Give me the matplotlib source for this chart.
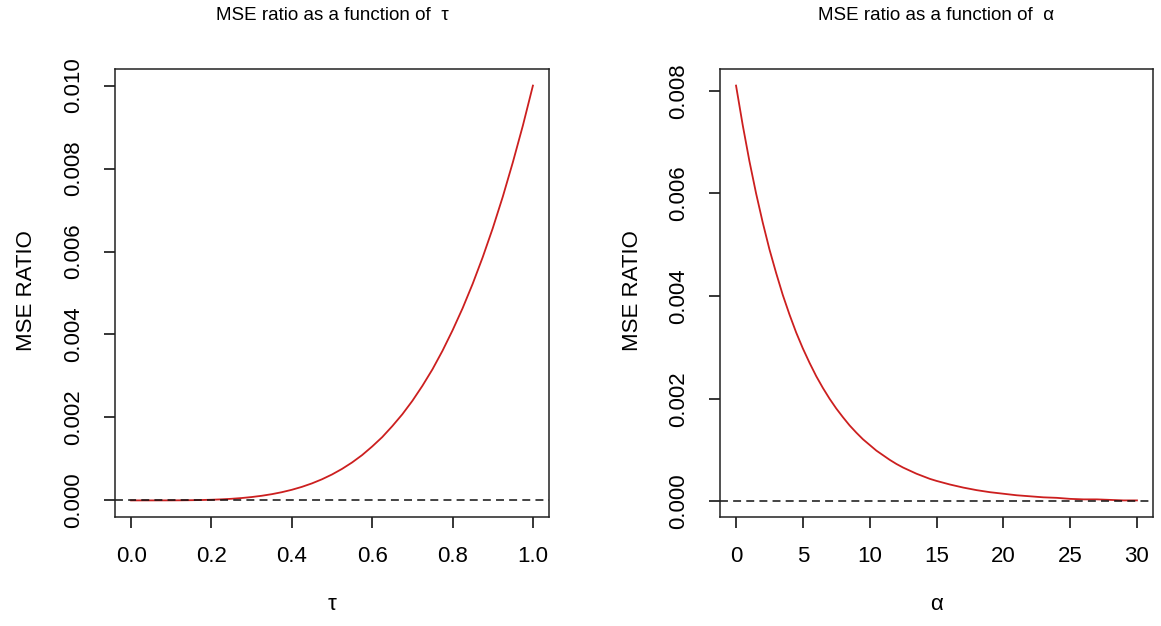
import matplotlib
matplotlib.use("Agg")
import matplotlib.pyplot as plt
from matplotlib import font_manager
import numpy as np

tau = [0.0, 0.025, 0.05, 0.075, 0.1, 0.125, 0.15, 0.175, 0.2, 0.225, 0.25,
       0.275, 0.3, 0.325, 0.35, 0.375, 0.4, 0.425, 0.45, 0.475, 0.5,
       0.525, 0.55, 0.575, 0.6, 0.625, 0.65, 0.675, 0.7, 0.725, 0.75,
       0.775, 0.8, 0.825, 0.85, 0.875, 0.9, 0.925, 0.95, 0.975, 1.0]
mse_tau = [0.0, 0.0, 0.0000001, 0.0000003, 0.000001, 0.0000024, 0.0000051,
           0.0000094, 0.000016, 0.0000256, 0.000039, 0.0000572, 0.000081,
           0.0001116, 0.00015, 0.0001978, 0.000256, 0.0003263, 0.00041,
           0.0005091, 0.000625, 0.0007597, 0.000915, 0.0010931, 0.0013,
           0.0015259, 0.00179, 0.002076, 0.0024, 0.0027629, 0.00316,
           0.0036075, 0.0041, 0.0046325, 0.00522, 0.0058618, 0.00656,
           0.007321, 0.00815, 0.0090371, 0.0100]

alpha = [0, 0.5, 1, 1.5, 2, 2.5, 3, 3.5, 4, 4.5, 5, 5.5, 6, 6.5, 7, 7.5, 8,
         8.5, 9, 9.5, 10, 10.5, 11, 11.5, 12, 12.5, 13, 13.5, 14, 14.5, 15,
         16, 17, 18, 19, 20, 21, 22, 23, 24, 25, 26, 27, 28, 29, 30]
mse_alpha = [0.00810, 0.00733, 0.00663, 0.00600, 0.00543, 0.00491, 0.00445,
             0.00402, 0.00364, 0.00329, 0.00298, 0.00270, 0.00244, 0.00221,
             0.00200, 0.00181, 0.00164, 0.00148, 0.00134, 0.00121, 0.00110,
             0.00099, 0.00090, 0.00081, 0.00073, 0.00066, 0.00060, 0.00054,
             0.00049, 0.00044, 0.00040,
             0.00033, 0.00027, 0.00022, 0.00018, 0.00015, 0.00012, 0.00010,
             0.00008, 0.00007, 0.00005, 0.00004, 0.00004, 0.00003, 0.00002,
             0.00002]

tau_ticks = [0.0, 0.2, 0.4, 0.6, 0.8, 1.0]
tau_ticklabels = ["0.0", "0.2", "0.4", "0.6", "0.8", "1.0"]
tau_yticks = [0.000, 0.002, 0.004, 0.006, 0.008, 0.010]
tau_yticklabels = ["0.000", "0.002", "0.004", "0.006", "0.008", "0.010"]
alpha_ticks = [0, 5, 10, 15, 20, 25, 30]
alpha_ticklabels = ["0", "5", "10", "15", "20", "25", "30"]
alpha_yticks = [0.000, 0.002, 0.004, 0.006, 0.008]
alpha_yticklabels = ["0.000", "0.002", "0.004", "0.006", "0.008"]

plt.rcParams['font.family'] = ['Liberation Sans', 'DejaVu Sans']

names = {f.name for f in font_manager.fontManager.ttflist}
if 'Liberation Sans Narrow' in names:
    title_family = ['Liberation Sans Narrow', 'Liberation Sans', 'DejaVu Sans']
    title_size = 16
else:
    title_family = ['Liberation Sans', 'DejaVu Sans']
    title_size = 13.5

W, H = 1161, 626
fig = plt.figure(figsize=(W / 100, H / 100), dpi=100)

AX_TOP, AX_BOT = 69, 517
AXH = AX_BOT - AX_TOP

def rlims(v):
    lo, hi = min(v), max(v)
    d = (hi - lo) * 0.04
    return lo - d, hi + d

def panel(left, width, x, y, xt, xtl, yt, ytl, title, xlabel):
    ax = fig.add_axes([left / W, 1 - AX_BOT / H, width / W, AXH / H])
    ax.plot(x, y, color='#cc1f1f', lw=1.3)
    ax.axhline(0, color='#111111', lw=1.1, ls=(0, (5.2, 3.4)))
    ax.set_xlim(*rlims(x))
    ax.set_ylim(*rlims(y))
    ax.set_xticks(xt)
    ax.set_xticklabels(xtl)
    ax.set_yticks(yt)
    ax.set_yticklabels(ytl, rotation=90, va='center')
    ax.tick_params(axis='both', direction='out', length=8, width=1.1,
                   labelsize=16, colors='black')
    ax.tick_params(axis='x', pad=13)
    ax.tick_params(axis='y', pad=14)
    for s in ax.spines.values():
        s.set_linewidth(1.1)
        s.set_color('#222222')
    ax.text(0.5, (AX_BOT - 16) / AXH, title, transform=ax.transAxes,
            fontsize=title_size, fontfamily=title_family,
            ha='center', va='center')
    ax.set_xlabel(xlabel, fontsize=16, va='center')
    ax.xaxis.set_label_coords(0.5, (AX_BOT - 605) / AXH)
    ax.set_ylabel("MSE RATIO", fontsize=16, va='center')
    ax.yaxis.set_label_coords(-88 / width, 0.5 + (AX_BOT - 291 - AXH / 2) / AXH)
    return ax

panel(115, 434, tau, mse_tau,
      tau_ticks, tau_ticklabels, tau_yticks, tau_yticklabels,
      "MSE ratio as a function of  \u03c4", "\u03c4")
panel(720, 433, alpha, mse_alpha,
      alpha_ticks, alpha_ticklabels, alpha_yticks, alpha_yticklabels,
      "MSE ratio as a function of  \u03b1", "\u03b1")

fig.savefig("out.png", dpi=100)
